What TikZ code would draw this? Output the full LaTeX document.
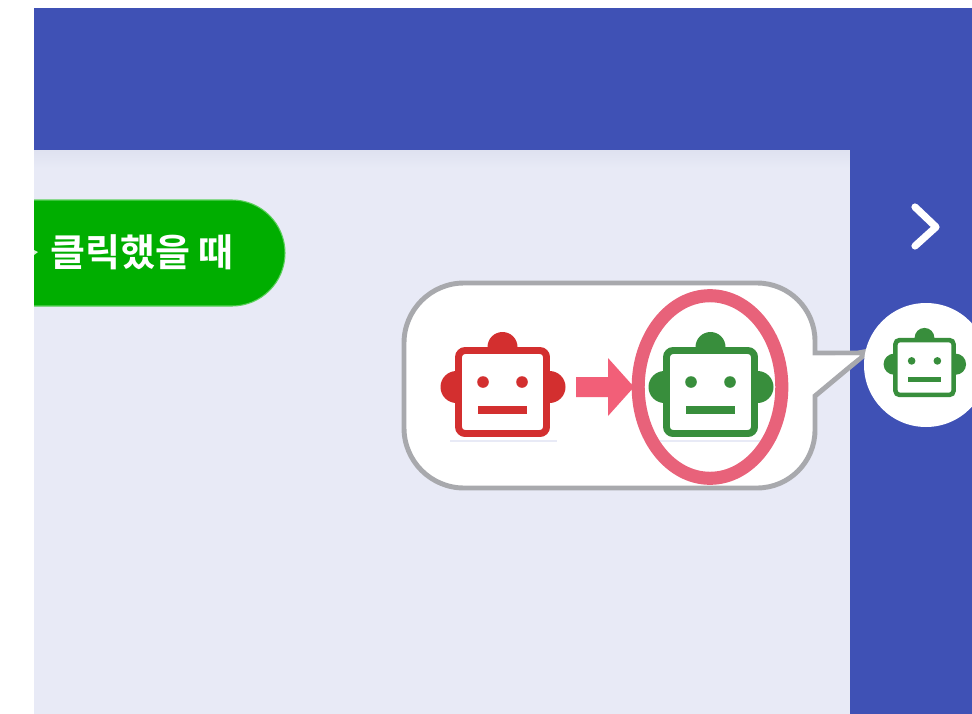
\documentclass[tikz,border=0pt]{standalone}
\usepackage{fontspec}
\newfontfamily\krfont{Noto Sans CJK KR Bold}
\definecolor{barblue}{HTML}{3F51B5}
\definecolor{panelbg}{HTML}{E8EAF6}
\definecolor{shadebg}{HTML}{DFE2F0}
\definecolor{pillgreen}{HTML}{00AE00}
\definecolor{pilledge}{HTML}{5CD05C}
\definecolor{calloutgray}{HTML}{A8A9AD}
\definecolor{robotred}{HTML}{D32F2F}
\definecolor{robotgreen}{HTML}{388E3C}
\definecolor{arrowpink}{HTML}{F25F78}
\definecolor{ringpink}{HTML}{E8627A}
\tikzset{
  bar/.style={fill=barblue,draw=none},
  callout/.style={draw=calloutgray,fill=white,line width=3.7pt,line join=miter},
  ring/.style={draw=ringpink,line width=9.8pt},
  chevron/.style={draw=white,line width=5.4pt,line cap=round,line join=round},
  footline/.style={draw=panelbg,line width=0.8pt},
}
% centre x, centre y, scale, colour, stroke width, corner radius
\newcommand{\robotface}[6]{%
  \begin{scope}[shift={(#1,#2)},scale=#3]
    \fill[#4] (0,-45) circle (15);
    \fill[#4] (-46,-5) circle (16);
    \fill[#4] (47,-5) circle (16);
    \draw[#4,fill=white,line width=#5,rounded corners=#6] (-44,-41.5) rectangle (44,41.5);
    \fill[#4] (-19.5,-10) circle (5.8);
    \fill[#4] (19.5,-10) circle (5.8);
    \fill[#4] (-24.5,14) rectangle (24.5,22);
  \end{scope}}
\begin{document}
\begin{tikzpicture}[x=0.75pt,y=-0.75pt]
  \useasboundingbox (0,0) rectangle (972,714);
  \fill[white] (0,0) rectangle (972,714);
  % background areas
  \fill[panelbg] (34,150) rectangle (850,714);
  \shade[top color=shadebg,bottom color=panelbg] (34,150) rectangle (850,168);
  \fill[bar] (34,8) rectangle (972,150);
  \fill[bar] (850,150) rectangle (972,714);
  % green pill
  \fill[pillgreen] (34,200) -- (232,200) arc[start angle=-90,end angle=90,radius=53] -- (34,306) -- cycle;
  \draw[pilledge,line width=0.8pt] (34,200) -- (232,200) arc[start angle=-90,end angle=90,radius=53] -- (34,306);
  \fill[white!85!pillgreen] (34,250) -- (38,252) -- (34,255) -- cycle;
  \node[text=white,font=\krfont\fontsize{28.5}{32}\selectfont,inner sep=0pt,anchor=center] (pilltext) at (142,252) {클릭했을 때};
  % callout
  \draw[callout]
    (464,283) -- (757,283)
    arc[start angle=-90,end angle=0,radius=58] -- (815,353)
    -- (858,353) -- (869,351) -- (815,396) -- (815,430)
    arc[start angle=0,end angle=90,radius=58] -- (464,488)
    arc[start angle=90,end angle=180,radius=60] -- (404,343)
    arc[start angle=180,end angle=270,radius=60] -- cycle;
  \fill[white] (810,356) -- (860,355.5) -- (810,393) -- cycle;
  % robots in the callout
  \draw[footline] (450,441) -- (557,441);
  \draw[footline] (660,441) -- (762,441);
  \robotface{502.5}{392}{1}{robotred}{5.2pt}{5pt}
  \robotface{710.5}{392}{1}{robotgreen}{5.2pt}{5pt}
  % pink arrow
  \fill[arrowpink] (576,377) -- (608,377) -- (608,358) -- (634,387) -- (608,416) -- (608,397) -- (576,397) -- cycle;
  % ring
  \draw[ring] (710,387) ellipse [x radius=71.8,y radius=91.3];
  % right panel
  \draw[chevron] (915,207) -- (936,227) -- (915,246);
  \fill[white] (926,365) circle (62);
  \robotface{924.5}{367.5}{0.66}{robotgreen}{3.4pt}{3pt}
\end{tikzpicture}
\end{document}
